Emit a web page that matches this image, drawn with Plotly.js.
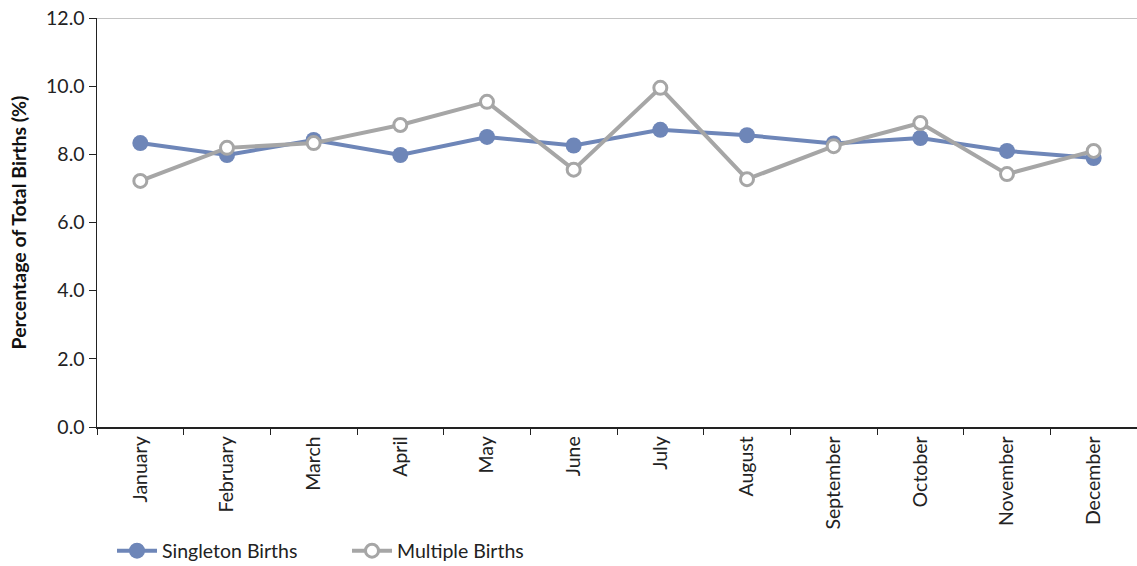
<!DOCTYPE html>
<html><head><meta charset="utf-8">
<script src="https://cdn.plot.ly/plotly-3.0.1.min.js"></script>
<style>html,body{margin:0;padding:0;background:#fff;}#chart{width:1137px;height:566px;}</style>
</head><body><div id="chart"></div>
<script>
const months = ["January","February","March","April","May","June","July","August","September","October","November","December"];
const singleton = [8.33, 7.98, 8.42, 7.98, 8.51, 8.26, 8.72, 8.56, 8.32, 8.48, 8.10, 7.89];
const multiple = [7.22, 8.19, 8.33, 8.86, 9.54, 7.55, 9.95, 7.27, 8.24, 8.92, 7.42, 8.10];
const yTicks = [0,2,4,6,8,10,12];
const font = "Lato, 'Open Sans', sans-serif";
const traces = [
 {x: months, y: singleton, name: "Singleton Births", type: "scatter", mode: "lines+markers",
  line: {color: "#6E86B8", width: 4}, marker: {color: "#6E86B8", size: 16, line:{width:0}}},
 {x: months, y: multiple, name: "Multiple Births", type: "scatter", mode: "lines+markers",
  line: {color: "#A6A6A6", width: 4}, marker: {color: "#FFFFFF", size: 13, line:{color:"#A6A6A6", width:3}}}
];
const layout = {
 width: 1137, height: 566,
 margin: {l: 97, r: 0, t: 18, b: 139, autoexpand: false},
 paper_bgcolor: "#fff", plot_bgcolor: "#fff",
 font: {family: font, size: 20, color: "#222"},
 showlegend: true,
 legend: {orientation: "h", xref: "container", yref: "container", x: 112/1137, xanchor: "left", y: 15/566, yanchor: "middle",
  font: {size: 19.5, color:"#222"}, itemwidth: 40, entrywidth: 180, entrywidthmode: "pixels", traceorder: "normal", bgcolor: "rgba(0,0,0,0)"},
 xaxis: {type: "category", range: [-0.5, 11.5], tickson: "boundaries", ticks: "outside", ticklen: 6, tickcolor: "#222",
  showline: true, linecolor: "#222", linewidth: 1.5, showgrid: false, tickangle: -90, zeroline: false, automargin: false,
  tickfont: {size: 19.5, family: font, color:"#222"}, fixedrange: true},
 yaxis: {range: [0, 12], tickvals: yTicks, ticktext: yTicks.map(v => v.toFixed(1)), ticks: "outside", ticklen: 7, tickcolor: "#222",
  showline: true, linecolor: "#222", linewidth: 1.5, showgrid: false, zeroline: false, automargin: false,
  tickfont: {size: 19.5, family: font, color:"#222"},
  title: {text: "<b>Percentage of Total Births (%)</b>", font: {size: 19.5, family: font, color:"#111"}, standoff: 14}},
 shapes: [{type: "line", xref: "paper", yref: "y", x0: 0, x1: 1, y0: 12, y1: 12, line: {color: "#B0B0B0", width: 1.5}}]
};
Plotly.newPlot("chart", traces, layout, {displayModeBar: false, staticPlot: true});
</script></body></html>
